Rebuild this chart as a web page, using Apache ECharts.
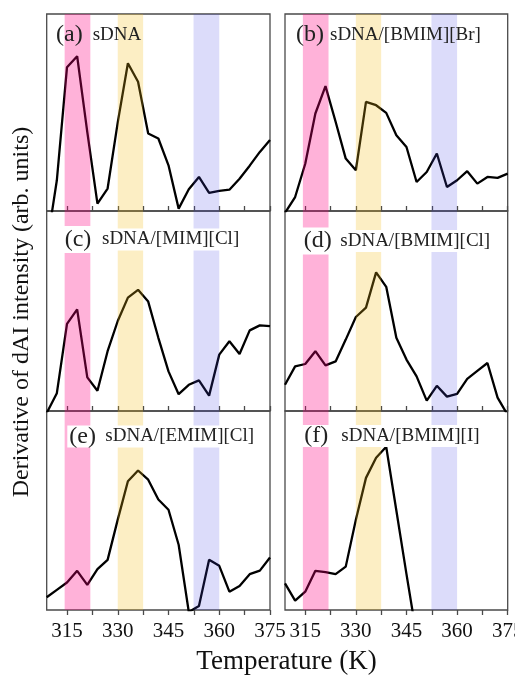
<!DOCTYPE html>
<html>
<head>
<meta charset="utf-8">
<script src="https://cdn.jsdelivr.net/npm/echarts@6/dist/echarts.min.js"></script>
<style>html,body{margin:0;padding:0;background:#fff}#c{width:515px;height:677px}</style>
</head>
<body>
<div id="c"></div>
<script>
// Temperature grid (K)
const temps = [309,312,315,318,321,324,327,330,333,336,339,342,345,348,351,354,357,360,363,366,369,372,375];
// Derivative of dAI intensity (arb. units), per panel
const valsA = [-18,15.6,73,78.6,40,3.7,11.4,45,75,65.6,39.3,36.8,23.2,1.2,11,17.3,9.2,10.2,10.8,16.4,23,30,36];
const valsB = [-1,7.1,24,49.5,63.4,45.3,26.6,20.7,55.4,53.7,49.8,38.5,32.5,14.7,19.8,29.2,12.2,15.6,20.2,13.9,17.3,16.8,19.0];
const valsC = [-1,8.9,43.6,50.8,16.8,10.1,29.9,45,56.7,60.6,54.7,36.6,19.8,8.4,13.1,15.3,7.7,28.2,34.9,28.5,40.3,42.8,42.4];
const valsD = [13.1,22.3,23.5,29.9,22.8,24.8,35.7,47,51.7,69.3,62.1,36.6,25.7,17.3,5.2,12.6,7.2,8.6,16.1,20.1,24,6.7,-2];
const valsE = [6.4,10.1,13.8,19.7,12.6,20.5,25.2,45.4,64.7,70.1,65.5,55.5,50.4,32.8,-1,2,25.2,22.2,9.2,12.1,18,19.8,26.4];
const valsF = [13.4,4.7,9.2,19.7,19,18,21.8,45.4,66.4,76.5,82,50,18,-13];
// Highlighted temperature bands
const bandStart = [314.3, 330, 352.4];
const bandEnd   = [321.9, 337.5, 360];
const bandColors = ['rgba(255,0,128,0.30)','rgba(243,187,19,0.25)','rgba(70,70,230,0.19)'];
// Tick labels
const tickLabels = [315,330,345,360,375];
const tickMarks = [315,322.5,330,337.5,345,352.5,360,367.5,375];
const panelTags = ['(a)','(b)','(c)','(d)','(e)','(f)'];
const panelNames = ['sDNA','sDNA/[BMIM][Br]','sDNA/[MIM][Cl]','sDNA/[BMIM][Cl]','sDNA/[EMIM][Cl]','sDNA/[BMIM][I]'];

const FONT = '"Liberation Serif","Times New Roman",serif';
const allVals = [valsA,valsB,valsC,valsD,valsE,valsF];

const lefts = [46.7, 285];
const widths = [223.3, 222.7];
const tops = [14, 211, 411];
const heights = [197, 200, 199];

const grids = [], xAxes = [], yAxes = [], series = [];
for (let i = 0; i < 6; i++) {
  const col = i % 2, row = Math.floor(i / 2);
  grids.push({left: lefts[col], top: tops[row], width: widths[col], height: heights[row],
    outerBoundsMode: 'none', containLabel: false,
    show: true, borderColor: '#4a4a4a', borderWidth: 1.3, backgroundColor: 'transparent'});
  xAxes.push({type: 'value', gridIndex: i, min: 309, max: 375,
    axisLine: {show: false},
    splitLine: {show: false},
    axisTick: {show: true, inside: row < 2, length: 5, customValues: tickMarks,
      lineStyle: {color: '#4a4a4a', width: 1.3}},
    axisLabel: {show: row === 2, customValues: tickLabels, margin: 11,
      fontFamily: FONT, fontSize: 21, color: '#111', hideOverlap: false}
  });
  yAxes.push({type: 'value', gridIndex: i, min: 0, max: 100, show: false});
  const v = allVals[i];
  series.push({type: 'line', xAxisIndex: i, yAxisIndex: i, z: 2,
    data: v.map((y, j) => [temps[j], y]),
    symbol: 'none', showSymbol: false, clip: true,
    lineStyle: {color: '#000', width: 2.3}, silent: true});
  series.push({type: 'custom', xAxisIndex: i, yAxisIndex: i, z: 3, silent: true,
    data: bandStart.map((s, k) => ({value: [s, bandEnd[k]], itemStyle: {color: bandColors[k]}})),
    encode: {x: [0, 1]},
    renderItem: function (params, api) {
      const p0 = api.coord([api.value(0), 0]);
      const p1 = api.coord([api.value(1), 0]);
      const cs = params.coordSys;
      return {type: 'rect', shape: {x: p0[0], y: cs.y, width: p1[0] - p0[0], height: cs.height},
        style: {fill: api.visual('color')}};
    }
  });
}

// label positions (tag x, name x, middle y)
const tagX = [56, 296, 62.7, 301.7, 67.3, 302.3];
const nameX = [92.7, 330, 100, 338.3, 103.3, 339.3];
const midY = [35, 35, 239.5, 241, 436.5, 436];
const graphics = [];
for (let i = 0; i < 6; i++) {
  const boxed = i >= 2;
  graphics.push({type: 'text', x: tagX[i], y: midY[i], z: 10,
    style: {text: panelTags[i], font: '24px ' + FONT, fill: '#222', textAlign: 'left',
      textVerticalAlign: 'middle', lineHeight: i < 4 ? 27 : 22,
      backgroundColor: boxed ? '#fff' : 'transparent', padding: boxed ? [0, 2, 0, 2] : 0}});
  graphics.push({type: 'text', x: nameX[i], y: midY[i], z: 10,
    style: {text: panelNames[i], font: '19px ' + FONT, fill: '#222', textAlign: 'left',
      textVerticalAlign: 'middle', lineHeight: 22,
      backgroundColor: boxed ? '#fff' : 'transparent', padding: boxed ? [0, 2, 0, 2] : 0}});
}
graphics.push({type: 'text', x: 22, y: 312, rotation: Math.PI / 2, z: 10,
  style: {text: 'Derivative of dAI intensity (arb. units)', font: '24px ' + FONT, fill: '#111',
    textAlign: 'center', textVerticalAlign: 'middle'}});
graphics.push({type: 'text', x: 286.5, y: 662, z: 10,
  style: {text: 'Temperature (K)', font: '27px ' + FONT, fill: '#111',
    textAlign: 'center', textVerticalAlign: 'middle'}});

const chart = echarts.init(document.getElementById('c'), null, {renderer: 'canvas'});
chart.setOption({
  animation: false,
  backgroundColor: '#fff',
  grid: grids, xAxis: xAxes, yAxis: yAxes, series: series, graphic: graphics
});
</script>
</body>
</html>
